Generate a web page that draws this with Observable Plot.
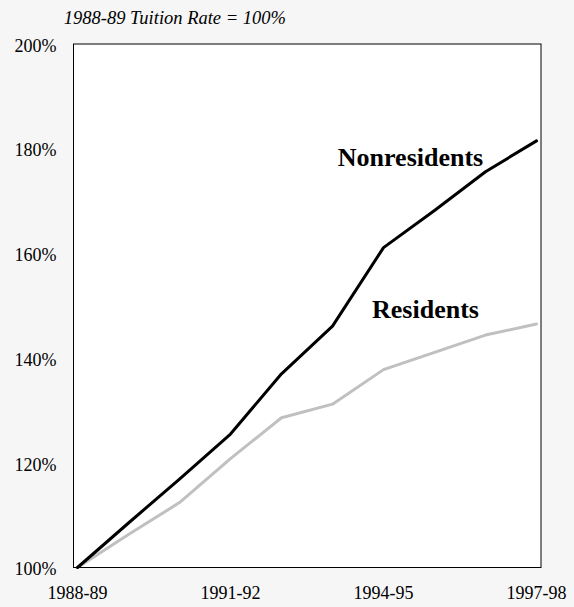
<!DOCTYPE html>
<html><head><meta charset="utf-8">
<script src="https://cdn.jsdelivr.net/npm/d3@7"></script>
<script src="https://cdn.jsdelivr.net/npm/@observablehq/plot@0.6"></script>
<style>body{margin:0;background:#f6f6f6;} svg{display:block} svg text{font-family:'Liberation Serif','Times New Roman',Times,serif !important;}</style>
</head><body><div id="chart"></div>
<script>
const years = ["1988-89","1989-90","1990-91","1991-92","1992-93","1993-94","1994-95","1995-96","1996-97","1997-98"];
const nonresidents = [100, 108.5, 116.9, 125.5, 137.0, 146.1, 161.1, 168.2, 175.6, 181.5];
const residents = [100, 106.3, 112.4, 120.8, 128.6, 131.2, 137.8, 141.1, 144.4, 146.5];
const yTicks = [100, 120, 140, 160, 180, 200];
const xLabels = ["1988-89", "1991-92", "1994-95", "1997-98"];
const seriesNames = ["Nonresidents", "Residents"];
const seriesColors = ["#000000", "#c0c0c0"];
const labelYears = ["1994-95", "1994-95"];
const labelValues = [178.3, 149.2];
const labelOffsets = [27, 42];
const subtitle = "1988-89 Tuition Rate = 100%";

const data = [];
years.forEach((yr, i) => {
  data.push({year: yr, value: residents[i], series: "Residents"});
});
years.forEach((yr, i) => {
  data.push({year: yr, value: nonresidents[i], series: "Nonresidents"});
});
const labels = seriesNames.map((s, i) => ({name: s, year: labelYears[i], value: labelValues[i], dx: labelOffsets[i]}));

const font = "Liberation Serif, Times New Roman, Times, serif";

const chart = Plot.plot({
  width: 574,
  height: 607,
  marginTop: 43.5,
  marginBottom: 40,
  marginLeft: 73,
  marginRight: 33.5,
  style: {background: "transparent", fontFamily: font, fontSize: "18px", color: "#000"},
  x: {type: "point", domain: years, padding: 0},
  y: {domain: [100, 200]},
  color: {domain: seriesNames, range: seriesColors},
  marks: [
    Plot.frame({fill: "white", stroke: null}),
    Plot.axisY({ticks: yTicks, tickSize: 0, tickPadding: 17, tickFormat: d => d + "%", fontSize: 18, fontFamily: font, dy: 2, label: null}),
    Plot.axisX({tickSize: 0, tickPadding: 19, tickFormat: d => xLabels.includes(d) ? d : "", fontSize: 18, fontFamily: font, label: null}),
    Plot.lineY(data, {x: "year", y: "value", z: "series", stroke: "series", strokeWidth: 3}),
    Plot.frame({stroke: "#000", strokeWidth: 1}),
    ...labels.map(l => Plot.text([l], {x: "year", y: "value", text: "name", dx: l.dx, fontSize: 26, fontWeight: "bold", fontFamily: font, textAnchor: "middle", fill: "#000"})),
    Plot.text([subtitle], {frameAnchor: "top-left", text: d => d, dx: -9.7, dy: -20.5, lineAnchor: "bottom", textAnchor: "start", fontSize: 18.5, fontStyle: "italic", fontFamily: font, fill: "#000"})
  ]
});
document.getElementById("chart").appendChild(chart);
</script>
</body></html>
